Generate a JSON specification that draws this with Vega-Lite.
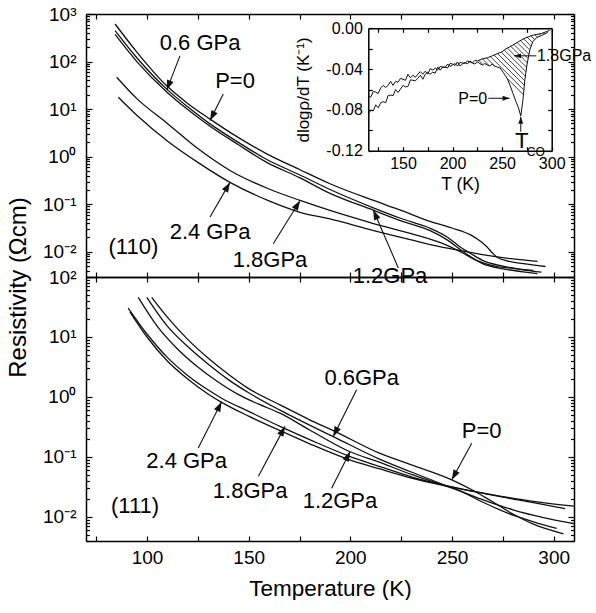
{
"$schema":"https://vega.github.io/schema/vega-lite/v6.json",
"padding":{"left":6,"top":5,"right":0,"bottom":0},
"background":"white",
"spacing":0,
"bounds":"flush",
"config":{"font":"Liberation Sans","view":{"stroke":null},
"axis":{"domainColor":"#000","domainWidth":1.5,"tickColor":"#000","tickWidth":1.2,"labelColor":"#000","titleColor":"#000","grid":false,"labelFont":"Liberation Sans","titleFont":"Liberation Sans","titleFontWeight":"normal","labelFontSize":19,"titleFontSize":22.5,"labelOverlap":false,"labelFlush":false},
"text":{"font":"Liberation Sans","color":"#000"}},
"datasets":{
"p110":[
{"P":"P=0","T":84.3,"rho":616.6},{"P":"P=0","T":95,"rho":158.5},{"P":"P=0","T":109.7,"rho":30.9},{"P":"P=0","T":120,"rho":13.18},{"P":"P=0","T":131,"rho":6.166},{"P":"P=0","T":145,"rho":2.512},{"P":"P=0","T":158.9,"rho":1.148},{"P":"P=0","T":175,"rho":0.537},{"P":"P=0","T":190,"rho":0.2692},{"P":"P=0","T":210,"rho":0.1259},{"P":"P=0","T":225,"rho":0.07413},{"P":"P=0","T":239.2,"rho":0.04365},{"P":"P=0","T":250,"rho":0.03162},{"P":"P=0","T":258.9,"rho":0.02291},{"P":"P=0","T":264,"rho":0.0166},{"P":"P=0","T":267,"rho":0.01288},{"P":"P=0","T":270,"rho":0.00933},{"P":"P=0","T":272,"rho":0.00776},{"P":"P=0","T":277,"rho":0.00646},{"P":"P=0","T":285,"rho":0.00562},{"P":"P=0","T":296,"rho":0.0049},
{"P":"0.6","T":84.3,"rho":446.7},{"P":"0.6","T":95,"rho":120.2},{"P":"0.6","T":109.7,"rho":26.3},{"P":"0.6","T":120,"rho":11.22},{"P":"0.6","T":131,"rho":4.898},{"P":"0.6","T":145,"rho":1.995},{"P":"0.6","T":158.9,"rho":0.871},{"P":"0.6","T":175,"rho":0.417},{"P":"0.6","T":190,"rho":0.2042},{"P":"0.6","T":211,"rho":0.0851},{"P":"0.6","T":225,"rho":0.0501},{"P":"0.6","T":239,"rho":0.03162},{"P":"0.6","T":248,"rho":0.01995},{"P":"0.6","T":254,"rho":0.01259},{"P":"0.6","T":259,"rho":0.00933},{"P":"0.6","T":265,"rho":0.00661},{"P":"0.6","T":275,"rho":0.00501},{"P":"0.6","T":285,"rho":0.00417},{"P":"0.6","T":294,"rho":0.00372},
{"P":"1.2","T":84.3,"rho":371.5},{"P":"1.2","T":95,"rho":100},{"P":"1.2","T":109.7,"rho":22.9},{"P":"1.2","T":120,"rho":9.772},{"P":"1.2","T":131,"rho":4.365},{"P":"1.2","T":145,"rho":1.778},{"P":"1.2","T":158.9,"rho":0.7586},{"P":"1.2","T":175,"rho":0.3631},{"P":"1.2","T":190,"rho":0.1698},{"P":"1.2","T":211,"rho":0.07586},{"P":"1.2","T":225,"rho":0.04467},{"P":"1.2","T":239,"rho":0.02818},{"P":"1.2","T":248,"rho":0.01738},{"P":"1.2","T":254,"rho":0.01122},{"P":"1.2","T":259,"rho":0.00794},{"P":"1.2","T":265,"rho":0.00562},{"P":"1.2","T":275,"rho":0.00437},{"P":"1.2","T":285,"rho":0.0038},{"P":"1.2","T":292,"rho":0.00347},
{"P":"1.8","T":85.1,"rho":46.77},{"P":"1.8","T":95,"rho":16.6},{"P":"1.8","T":110,"rho":5.012},{"P":"1.8","T":125,"rho":1.479},{"P":"1.8","T":140.8,"rho":0.5129},{"P":"1.8","T":160,"rho":0.2089},{"P":"1.8","T":175.3,"rho":0.1202},{"P":"1.8","T":190,"rho":0.07413},{"P":"1.8","T":211,"rho":0.03981},{"P":"1.8","T":230,"rho":0.02399},{"P":"1.8","T":245,"rho":0.01514},{"P":"1.8","T":255,"rho":0.00955},{"P":"1.8","T":262,"rho":0.00661},{"P":"1.8","T":270,"rho":0.00513},{"P":"1.8","T":280,"rho":0.00447},{"P":"1.8","T":290,"rho":0.00407},
{"P":"2.4","T":85.9,"rho":17.78},{"P":"2.4","T":95,"rho":7.413},{"P":"2.4","T":110,"rho":2.138},{"P":"2.4","T":125,"rho":0.7586},{"P":"2.4","T":140.8,"rho":0.2884},{"P":"2.4","T":160,"rho":0.1175},{"P":"2.4","T":175.3,"rho":0.0676},{"P":"2.4","T":190,"rho":0.049},{"P":"2.4","T":211,"rho":0.02818},{"P":"2.4","T":230,"rho":0.01778},{"P":"2.4","T":245,"rho":0.01259},{"P":"2.4","T":255,"rho":0.01047},{"P":"2.4","T":265,"rho":0.00871},{"P":"2.4","T":280,"rho":0.00708},{"P":"2.4","T":292,"rho":0.00631}
],
"p111":[
{"P":"P=0","T":102.3,"rho":45.71},{"P":"P=0","T":110,"rho":21.38},{"P":"P=0","T":120,"rho":9.12},{"P":"P=0","T":130,"rho":4.467},{"P":"P=0","T":140,"rho":2.399},{"P":"P=0","T":150,"rho":1.38},{"P":"P=0","T":165.4,"rho":0.7413},{"P":"P=0","T":180,"rho":0.4169},{"P":"P=0","T":191.6,"rho":0.2754},{"P":"P=0","T":214.6,"rho":0.1148},{"P":"P=0","T":230,"rho":0.07413},{"P":"P=0","T":249.9,"rho":0.04169},{"P":"P=0","T":260,"rho":0.02818},{"P":"P=0","T":268.7,"rho":0.01905},{"P":"P=0","T":280,"rho":0.01122},{"P":"P=0","T":290,"rho":0.00759},{"P":"P=0","T":304.8,"rho":0.00525},
{"P":"0.6","T":99.9,"rho":45.71},{"P":"0.6","T":110,"rho":15.14},{"P":"0.6","T":120,"rho":6.918},{"P":"0.6","T":130,"rho":3.548},{"P":"0.6","T":140,"rho":1.95},{"P":"0.6","T":150,"rho":1.175},{"P":"0.6","T":165.4,"rho":0.6026},{"P":"0.6","T":180,"rho":0.3388},{"P":"0.6","T":191.6,"rho":0.2188},{"P":"0.6","T":214.6,"rho":0.0912},{"P":"0.6","T":230,"rho":0.05623},{"P":"0.6","T":245,"rho":0.03548},{"P":"0.6","T":255,"rho":0.0263},{"P":"0.6","T":265,"rho":0.01778},{"P":"0.6","T":280,"rho":0.01072},{"P":"0.6","T":292,"rho":0.00794},{"P":"0.6","T":301.5,"rho":0.00646},
{"P":"1.2","T":95.7,"rho":45.71},{"P":"1.2","T":105,"rho":15.14},{"P":"1.2","T":115,"rho":6.31},{"P":"1.2","T":125,"rho":3.162},{"P":"1.2","T":135,"rho":1.778},{"P":"1.2","T":145,"rho":1.096},{"P":"1.2","T":155,"rho":0.7586},{"P":"1.2","T":165.4,"rho":0.537},{"P":"1.2","T":180,"rho":0.2818},{"P":"1.2","T":199,"rho":0.1259},{"P":"1.2","T":214.6,"rho":0.08128},{"P":"1.2","T":230,"rho":0.05129},{"P":"1.2","T":245,"rho":0.03467},{"P":"1.2","T":255,"rho":0.0263},{"P":"1.2","T":265,"rho":0.0195},{"P":"1.2","T":280,"rho":0.01318},{"P":"1.2","T":295,"rho":0.00977},{"P":"1.2","T":310,"rho":0.00776},
{"P":"1.8","T":90.8,"rho":30.2},{"P":"1.8","T":100,"rho":11.22},{"P":"1.8","T":110,"rho":4.571},{"P":"1.8","T":120,"rho":2.291},{"P":"1.8","T":130,"rho":1.318},{"P":"1.8","T":136.7,"rho":0.955},{"P":"1.8","T":150,"rho":0.5754},{"P":"1.8","T":165.4,"rho":0.3236},{"P":"1.8","T":180,"rho":0.195},{"P":"1.8","T":199,"rho":0.1047},{"P":"1.8","T":214.6,"rho":0.06918},{"P":"1.8","T":230,"rho":0.04677},{"P":"1.8","T":245,"rho":0.03467},{"P":"1.8","T":260,"rho":0.02692},{"P":"1.8","T":275,"rho":0.02138},{"P":"1.8","T":290,"rho":0.01738},{"P":"1.8","T":305.6,"rho":0.0138},
{"P":"2.4","T":91.6,"rho":26.3},{"P":"2.4","T":100,"rho":10},{"P":"2.4","T":110,"rho":3.981},{"P":"2.4","T":120,"rho":1.995},{"P":"2.4","T":130,"rho":1.122},{"P":"2.4","T":136.7,"rho":0.8128},{"P":"2.4","T":150,"rho":0.4786},{"P":"2.4","T":165.4,"rho":0.2754},{"P":"2.4","T":180,"rho":0.166},{"P":"2.4","T":199,"rho":0.0912},{"P":"2.4","T":214.6,"rho":0.0631},{"P":"2.4","T":230,"rho":0.04467},{"P":"2.4","T":245,"rho":0.03388},{"P":"2.4","T":260,"rho":0.02692},{"P":"2.4","T":275,"rho":0.02188},{"P":"2.4","T":290,"rho":0.0182},{"P":"2.4","T":310,"rho":0.01514}
],
"lab110":[
{"T":126.1,"rho":240,"text":"0.6 GPa"},{"T":143.3,"rho":39.8,"text":"P=0"},{"T":131,"rho":0.0257,"text":"2.4 GPa"},{"T":160.5,"rho":0.00676,"text":"1.8GPa"},{"T":219.5,"rho":0.00316,"text":"1.2GPa"},{"T":93.3,"rho":0.0126,"text":"(110)"}
],
"arr110":[
{"T1":116.2,"r1":131.8,"T2":109.7,"r2":25.1,"ang":201},{"T1":137.5,"r1":20.9,"T2":131,"r2":5.75,"ang":206.5},{"T1":131,"r1":0.0537,"T2":140.8,"r2":0.288,"ang":29.7},{"T1":162.1,"r1":0.0148,"T2":175.3,"r2":0.12,"ang":31.7},{"T1":223.6,"r1":0.00457,"T2":211.3,"r2":0.0759,"ang":336.8}
],
"lab111":[
{"T":119.5,"rho":0.0851,"text":"2.4 GPa"},{"T":150.7,"rho":0.0269,"text":"1.8GPa"},{"T":94.1,"rho":0.0151,"text":"(111)"},{"T":205.6,"rho":2.042,"text":"0.6GPa"},{"T":194.9,"rho":0.0182,"text":"1.2GPa"},{"T":264.6,"rho":0.269,"text":"P=0"}
],
"arr111":[
{"T1":125.2,"r1":0.1413,"T2":136.7,"r2":0.832,"ang":26.7},{"T1":154.8,"r1":0.0479,"T2":167.9,"r2":0.324,"ang":28.1},{"T1":203.1,"r1":1.318,"T2":191.6,"r2":0.219,"ang":206.6},{"T1":190.8,"r1":0.0302,"T2":199.9,"r2":0.123,"ang":26.6},{"T1":259.7,"r1":0.17,"T2":249.9,"r2":0.0417,"ang":208.6}
],
"inset":[
{"P":"P=0","T":115,"v":-0.084},{"P":"P=0","T":117.5,"v":-0.08},{"P":"P=0","T":120,"v":-0.081},{"P":"P=0","T":122.5,"v":-0.075},{"P":"P=0","T":125,"v":-0.078},{"P":"P=0","T":127.5,"v":-0.073},{"P":"P=0","T":130,"v":-0.072},{"P":"P=0","T":132.5,"v":-0.073},{"P":"P=0","T":135,"v":-0.066},{"P":"P=0","T":137.5,"v":-0.0655},{"P":"P=0","T":140,"v":-0.066},{"P":"P=0","T":142.5,"v":-0.06},{"P":"P=0","T":145,"v":-0.063},{"P":"P=0","T":147.5,"v":-0.0595},{"P":"P=0","T":150,"v":-0.056},{"P":"P=0","T":152.5,"v":-0.0575},{"P":"P=0","T":155,"v":-0.057},{"P":"P=0","T":157.5,"v":-0.0505},{"P":"P=0","T":160,"v":-0.051},{"P":"P=0","T":162.5,"v":-0.0515},{"P":"P=0","T":165,"v":-0.049},{"P":"P=0","T":167.5,"v":-0.046},{"P":"P=0","T":170,"v":-0.05},{"P":"P=0","T":172.5,"v":-0.045},{"P":"P=0","T":175,"v":-0.043},{"P":"P=0","T":177.5,"v":-0.045},{"P":"P=0","T":180,"v":-0.043},{"P":"P=0","T":182.5,"v":-0.044},{"P":"P=0","T":185,"v":-0.038},{"P":"P=0","T":187.5,"v":-0.041},{"P":"P=0","T":190,"v":-0.038},{"P":"P=0","T":192.5,"v":-0.038},{"P":"P=0","T":195,"v":-0.039},{"P":"P=0","T":197.5,"v":-0.0345},{"P":"P=0","T":200,"v":-0.035},{"P":"P=0","T":202.5,"v":-0.0365},{"P":"P=0","T":205,"v":-0.033},{"P":"P=0","T":207.5,"v":-0.037},{"P":"P=0","T":210,"v":-0.035},{"P":"P=0","T":212.5,"v":-0.0335},{"P":"P=0","T":215,"v":-0.035},{"P":"P=0","T":217.5,"v":-0.032},{"P":"P=0","T":220,"v":-0.034},{"P":"P=0","T":222.5,"v":-0.035},{"P":"P=0","T":225,"v":-0.033},{"P":"P=0","T":227.5,"v":-0.0345},{"P":"P=0","T":230,"v":-0.036},{"P":"P=0","T":232.5,"v":-0.0345},{"P":"P=0","T":235,"v":-0.036},{"P":"P=0","T":237.5,"v":-0.037},{"P":"P=0","T":240,"v":-0.035},{"P":"P=0","T":242.5,"v":-0.037},{"P":"P=0","T":245,"v":-0.038},{"P":"P=0","T":248,"v":-0.039},{"P":"P=0","T":251,"v":-0.043},{"P":"P=0","T":253,"v":-0.046},{"P":"P=0","T":255,"v":-0.049},{"P":"P=0","T":258,"v":-0.056},{"P":"P=0","T":261,"v":-0.064},{"P":"P=0","T":264,"v":-0.072},{"P":"P=0","T":266.5,"v":-0.078},{"P":"P=0","T":268.8,"v":-0.086},{"P":"P=0","T":271,"v":-0.07},{"P":"P=0","T":273,"v":-0.05},{"P":"P=0","T":275,"v":-0.036},{"P":"P=0","T":278,"v":-0.021},{"P":"P=0","T":281,"v":-0.013},{"P":"P=0","T":285,"v":-0.009},{"P":"P=0","T":290,"v":-0.007},{"P":"P=0","T":296,"v":-0.004},
{"P":"1.8","T":115,"v":-0.066},{"P":"1.8","T":117.5,"v":-0.0675},{"P":"1.8","T":120,"v":-0.062},{"P":"1.8","T":122.5,"v":-0.0625},{"P":"1.8","T":125,"v":-0.064},{"P":"1.8","T":127.5,"v":-0.0585},{"P":"1.8","T":130,"v":-0.056},{"P":"1.8","T":132.5,"v":-0.058},{"P":"1.8","T":135,"v":-0.056},{"P":"1.8","T":137.5,"v":-0.052},{"P":"1.8","T":140,"v":-0.056},{"P":"1.8","T":142.5,"v":-0.052},{"P":"1.8","T":145,"v":-0.053},{"P":"1.8","T":147.5,"v":-0.049},{"P":"1.8","T":150,"v":-0.05},{"P":"1.8","T":152.5,"v":-0.051},{"P":"1.8","T":155,"v":-0.045},{"P":"1.8","T":157.5,"v":-0.0485},{"P":"1.8","T":160,"v":-0.046},{"P":"1.8","T":162.5,"v":-0.048},{"P":"1.8","T":165,"v":-0.045},{"P":"1.8","T":167.5,"v":-0.0425},{"P":"1.8","T":170,"v":-0.045},{"P":"1.8","T":172.5,"v":-0.042},{"P":"1.8","T":175,"v":-0.045},{"P":"1.8","T":177.5,"v":-0.0395},{"P":"1.8","T":180,"v":-0.041},{"P":"1.8","T":182.5,"v":-0.039},{"P":"1.8","T":185,"v":-0.041},{"P":"1.8","T":187.5,"v":-0.0375},{"P":"1.8","T":190,"v":-0.038},{"P":"1.8","T":192.5,"v":-0.0385},{"P":"1.8","T":195,"v":-0.035},{"P":"1.8","T":197.5,"v":-0.0375},{"P":"1.8","T":200,"v":-0.036},{"P":"1.8","T":202.5,"v":-0.0345},{"P":"1.8","T":205,"v":-0.037},{"P":"1.8","T":207.5,"v":-0.0335},{"P":"1.8","T":210,"v":-0.034},{"P":"1.8","T":212.5,"v":-0.0345},{"P":"1.8","T":215,"v":-0.032},{"P":"1.8","T":217.5,"v":-0.033},{"P":"1.8","T":220,"v":-0.034},{"P":"1.8","T":222.5,"v":-0.0315},{"P":"1.8","T":225,"v":-0.032},{"P":"1.8","T":230,"v":-0.03},{"P":"1.8","T":235,"v":-0.029},{"P":"1.8","T":240,"v":-0.027},{"P":"1.8","T":245,"v":-0.025},{"P":"1.8","T":250,"v":-0.023},{"P":"1.8","T":254,"v":-0.02},{"P":"1.8","T":258,"v":-0.018},{"P":"1.8","T":265,"v":-0.014},{"P":"1.8","T":272,"v":-0.01},{"P":"1.8","T":280,"v":-0.007},{"P":"1.8","T":290,"v":-0.005},{"P":"1.8","T":298,"v":-0.002}
],
"hatch":[
{"T1":226.5,"v1":-0.0315,"T2":230.3,"v2":-0.0351},{"T1":230.1,"v1":-0.0299,"T2":236.4,"v2":-0.0361},{"T1":234.1,"v1":-0.0288,"T2":242.6,"v2":-0.0371},{"T1":255.1,"v1":-0.0492,"T2":271.5,"v2":-0.0651},{"T1":238,"v1":-0.0276,"T2":272,"v2":-0.0606},{"T1":241.8,"v1":-0.0263,"T2":272.4,"v2":-0.056},{"T1":245.4,"v1":-0.0248,"T2":272.85,"v2":-0.0514},{"T1":249.1,"v1":-0.0234,"T2":273.4,"v2":-0.0469},{"T1":252.3,"v1":-0.0215,"T2":274.1,"v2":-0.0426},{"T1":255.5,"v1":-0.0196,"T2":274.7,"v2":-0.0382},{"T1":258.6,"v1":-0.0176,"T2":275.4,"v2":-0.0339},{"T1":261.9,"v1":-0.0158,"T2":276.3,"v2":-0.0298},{"T1":265.1,"v1":-0.0139,"T2":277.1,"v2":-0.0255},{"T1":268.4,"v1":-0.0121,"T2":277.9,"v2":-0.0213},{"T1":271.6,"v1":-0.0102,"T2":279.3,"v2":-0.0177},{"T1":275.3,"v1":-0.0088,"T2":280.6,"v2":-0.0139},{"T1":279,"v1":-0.0074,"T2":282.9,"v2":-0.0112},{"T1":283.1,"v1":-0.0064,"T2":285.6,"v2":-0.0088},{"T1":287.4,"v1":-0.0055,"T2":289.2,"v2":-0.0073},{"T1":291.4,"v1":-0.0044,"T2":292.7,"v2":-0.0057}
],
"inarr":[
{"T1":236.1,"v1":-0.0686,"T2":257.5,"v2":-0.0686,"ang":90},{"T1":284.5,"v1":-0.027,"T2":262,"v2":-0.027,"ang":270},{"T1":268.8,"v1":-0.1014,"T2":268.8,"v2":-0.0867,"ang":0}
]
},
"vconcat":[
{"width":488,"height":263,
"layer":[
{"data":{"name":"p110"},"mark":{"type":"line","interpolate":"monotone","color":"#111","strokeWidth":1.3},
"encoding":{
"x":{"field":"T","type":"quantitative","scale":{"domain":[70,310],"nice":false,"zero":false},"axis":{"orient":"bottom","values":[75,100,125,150,175,200,225,250,275,300],"labels":false,"tickSize":-5,"title":null}},
"y":{"field":"rho","type":"quantitative","scale":{"type":"log","domain":[0.00295,1000],"nice":false},"axis":{"orient":"left","values":[0.003,0.004,0.005,0.006,0.007,0.008,0.009,0.01,0.02,0.03,0.04,0.05,0.06,0.07,0.08,0.09,0.1,0.2,0.3,0.4,0.5,0.6,0.7,0.8,0.9,1,2,3,4,5,6,7,8,9,10,20,30,40,50,60,70,80,90,100,200,300,400,500,600,700,800,900,1000],"labelExpr":"datum.value==1000?'10³':datum.value==100?'10²':datum.value==10?'10¹':datum.value==1?'10⁰':datum.value==0.1?'10⁻¹':datum.value==0.01?'10⁻²':''","tickSize":{"condition":{"test":"indexof([0.01,0.1,1,10,100,1000],datum.value)>=0","value":-6},"value":-3.5},"labelPadding":16,"title":"Resistivity (Ωcm)","titleFontSize":24,"titleX":-68,"titleY":273,"titleBaseline":"middle"}},
"detail":{"field":"P"}}},
{"data":{"name":"lab110"},"mark":{"type":"text","fontSize":22},
"encoding":{
"x":{"field":"T","type":"quantitative","scale":{"domain":[70,310],"nice":false,"zero":false},"axis":{"orient":"top","values":[75,100,125,150,175,200,225,250,275,300],"labels":false,"tickSize":-5,"title":null}},
"y":{"field":"rho","type":"quantitative","scale":{"type":"log","domain":[0.00295,1000],"nice":false},"axis":{"orient":"right","values":[0.003,0.004,0.005,0.006,0.007,0.008,0.009,0.01,0.02,0.03,0.04,0.05,0.06,0.07,0.08,0.09,0.1,0.2,0.3,0.4,0.5,0.6,0.7,0.8,0.9,1,2,3,4,5,6,7,8,9,10,20,30,40,50,60,70,80,90,100,200,300,400,500,600,700,800,900,1000],"labels":false,"tickSize":{"condition":{"test":"indexof([0.01,0.1,1,10,100,1000],datum.value)>=0","value":-6},"value":-3.5},"title":null}},
"text":{"field":"text"}}},
{"data":{"name":"arr110"},"mark":{"type":"rule","color":"#111","strokeWidth":1.1},
"encoding":{
"x":{"field":"T1","type":"quantitative","scale":{"domain":[70,310],"nice":false,"zero":false},"axis":null},"x2":{"field":"T2"},
"y":{"field":"r1","type":"quantitative","scale":{"type":"log","domain":[0.00295,1000],"nice":false},"axis":null},"y2":{"field":"r2"}}},
{"data":{"name":"arr110"},"mark":{"type":"point","shape":"M0,0L-0.35,1L0.35,1Z","filled":true,"size":400,"color":"#111","opacity":1,"strokeWidth":0},
"encoding":{
"x":{"field":"T2","type":"quantitative","scale":{"domain":[70,310],"nice":false,"zero":false},"axis":null},
"y":{"field":"r2","type":"quantitative","scale":{"type":"log","domain":[0.00295,1000],"nice":false},"axis":null},
"angle":{"field":"ang","type":"quantitative","scale":null}}},
{"data":{"name":"inset"},"mark":{"type":"line","color":"#111","strokeWidth":1},
"encoding":{
"x":{"field":"T","type":"quantitative","scale":{"domain":[115,300],"range":[282.3,465.7],"nice":false,"zero":false},"axis":{"orient":"bottom","offset":-126.3,"values":[125,150,175,200,225,250,275,300],"labelExpr":"datum.value%50==0?datum.label:''","tickSize":-4,"labelFontSize":16,"labelPadding":9,"title":"T (K)","titleFontSize":17.5,"titlePadding":4}},
"y":{"field":"v","type":"quantitative","scale":{"domain":[-0.12,0],"range":[136.7,14.3],"nice":false,"zero":false},"axis":{"orient":"left","offset":-282.3,"values":[-0.12,-0.1,-0.08,-0.06,-0.04,-0.02,0],"labelExpr":"indexof([0,-0.04,-0.08,-0.12],datum.value)>=0?replace(format(datum.value,'.2f'),'−','-'):''","tickSize":-4,"labelFontSize":16,"labelPadding":10,"title":"dlogρ/dT (K⁻¹)","titleFontSize":17,"titleX":-65,"titleBaseline":"middle"}},
"detail":{"field":"P"}}},
{"data":{"name":"hatch"},"mark":{"type":"rule","color":"#111","strokeWidth":0.8},
"encoding":{
"x":{"field":"T1","type":"quantitative","scale":{"domain":[115,300],"range":[282.3,465.7],"nice":false,"zero":false},"axis":{"orient":"top","offset":-14.3,"values":[125,150,175,200,225,250,275,300],"labels":false,"tickSize":-4,"title":null}},"x2":{"field":"T2"},
"y":{"field":"v1","type":"quantitative","scale":{"domain":[-0.12,0],"range":[136.7,14.3],"nice":false,"zero":false},"axis":{"orient":"right","offset":-22.3,"values":[-0.12,-0.1,-0.08,-0.06,-0.04,-0.02,0],"labels":false,"tickSize":-4,"title":null}},"y2":{"field":"v2"}}},
{"data":{"values":[{"T":220.3,"v":-0.0697,"text":"P=0"},{"T":312.5,"v":-0.027,"text":"1.8GPa"}]},"mark":{"type":"text","fontSize":16},
"encoding":{
"x":{"field":"T","type":"quantitative","scale":{"domain":[115,300],"range":[282.3,465.7],"nice":false,"zero":false},"axis":null},
"y":{"field":"v","type":"quantitative","scale":{"domain":[-0.12,0],"range":[136.7,14.3],"nice":false,"zero":false},"axis":null},
"text":{"field":"text"}}},
{"data":{"values":[{"T":269.8,"v":-0.1103,"text":"T"}]},"mark":{"type":"text","fontSize":22},
"encoding":{
"x":{"field":"T","type":"quantitative","scale":{"domain":[115,300],"range":[282.3,465.7],"nice":false,"zero":false},"axis":null},
"y":{"field":"v","type":"quantitative","scale":{"domain":[-0.12,0],"range":[136.7,14.3],"nice":false,"zero":false},"axis":null},
"text":{"field":"text"}}},
{"data":{"values":[{"T":284,"v":-0.121,"text":"CO"}]},"mark":{"type":"text","fontSize":12},
"encoding":{
"x":{"field":"T","type":"quantitative","scale":{"domain":[115,300],"range":[282.3,465.7],"nice":false,"zero":false},"axis":null},
"y":{"field":"v","type":"quantitative","scale":{"domain":[-0.12,0],"range":[136.7,14.3],"nice":false,"zero":false},"axis":null},
"text":{"field":"text"}}},
{"data":{"name":"inarr"},"mark":{"type":"rule","color":"#111","strokeWidth":1},
"encoding":{
"x":{"field":"T1","type":"quantitative","scale":{"domain":[115,300],"range":[282.3,465.7],"nice":false,"zero":false},"axis":null},"x2":{"field":"T2"},
"y":{"field":"v1","type":"quantitative","scale":{"domain":[-0.12,0],"range":[136.7,14.3],"nice":false,"zero":false},"axis":null},"y2":{"field":"v2"}}},
{"data":{"name":"inarr"},"mark":{"type":"point","shape":"M0,0L-0.35,1L0.35,1Z","filled":true,"size":196,"color":"#111","opacity":1,"strokeWidth":0},
"encoding":{
"x":{"field":"T2","type":"quantitative","scale":{"domain":[115,300],"range":[282.3,465.7],"nice":false,"zero":false},"axis":null},
"y":{"field":"v2","type":"quantitative","scale":{"domain":[-0.12,0],"range":[136.7,14.3],"nice":false,"zero":false},"axis":null},
"angle":{"field":"ang","type":"quantitative","scale":null}}}
],
"resolve":{"scale":{"x":"independent","y":"independent"},"axis":{"x":"independent","y":"independent"}}
},
{"width":488,"height":264,
"layer":[
{"data":{"name":"p111"},"mark":{"type":"line","interpolate":"monotone","color":"#111","strokeWidth":1.3},
"encoding":{
"x":{"field":"T","type":"quantitative","scale":{"domain":[70,310],"nice":false,"zero":false},"axis":{"orient":"bottom","values":[75,100,125,150,175,200,225,250,275,300],"labelExpr":"datum.value%50==0?datum.label:''","tickSize":-5,"labelPadding":12,"title":"Temperature (K)","titlePadding":10}},
"y":{"field":"rho","type":"quantitative","scale":{"type":"log","domain":[0.003981,100],"nice":false},"axis":{"orient":"left","values":[0.004,0.005,0.006,0.007,0.008,0.009,0.01,0.02,0.03,0.04,0.05,0.06,0.07,0.08,0.09,0.1,0.2,0.3,0.4,0.5,0.6,0.7,0.8,0.9,1,2,3,4,5,6,7,8,9,10,20,30,40,50,60,70,80,90,100],"labelExpr":"datum.value==1000?'10³':datum.value==100?'10²':datum.value==10?'10¹':datum.value==1?'10⁰':datum.value==0.1?'10⁻¹':datum.value==0.01?'10⁻²':''","tickSize":{"condition":{"test":"indexof([0.01,0.1,1,10,100,1000],datum.value)>=0","value":-6},"value":-3.5},"labelPadding":16,"title":null}},
"detail":{"field":"P"}}},
{"data":{"name":"lab111"},"mark":{"type":"text","fontSize":22},
"encoding":{
"x":{"field":"T","type":"quantitative","scale":{"domain":[70,310],"nice":false,"zero":false},"axis":{"orient":"top","values":[75,100,125,150,175,200,225,250,275,300],"labels":false,"tickSize":-5,"title":null}},
"y":{"field":"rho","type":"quantitative","scale":{"type":"log","domain":[0.003981,100],"nice":false},"axis":{"orient":"right","values":[0.004,0.005,0.006,0.007,0.008,0.009,0.01,0.02,0.03,0.04,0.05,0.06,0.07,0.08,0.09,0.1,0.2,0.3,0.4,0.5,0.6,0.7,0.8,0.9,1,2,3,4,5,6,7,8,9,10,20,30,40,50,60,70,80,90,100],"labels":false,"tickSize":{"condition":{"test":"indexof([0.01,0.1,1,10,100,1000],datum.value)>=0","value":-6},"value":-3.5},"title":null}},
"text":{"field":"text"}}},
{"data":{"name":"arr111"},"mark":{"type":"rule","color":"#111","strokeWidth":1.1},
"encoding":{
"x":{"field":"T1","type":"quantitative","scale":{"domain":[70,310],"nice":false,"zero":false},"axis":null},"x2":{"field":"T2"},
"y":{"field":"r1","type":"quantitative","scale":{"type":"log","domain":[0.003981,100],"nice":false},"axis":null},"y2":{"field":"r2"}}},
{"data":{"name":"arr111"},"mark":{"type":"point","shape":"M0,0L-0.35,1L0.35,1Z","filled":true,"size":400,"color":"#111","opacity":1,"strokeWidth":0},
"encoding":{
"x":{"field":"T2","type":"quantitative","scale":{"domain":[70,310],"nice":false,"zero":false},"axis":null},
"y":{"field":"r2","type":"quantitative","scale":{"type":"log","domain":[0.003981,100],"nice":false},"axis":null},
"angle":{"field":"ang","type":"quantitative","scale":null}}}
],
"resolve":{"scale":{"x":"independent","y":"independent"},"axis":{"x":"independent","y":"independent"}}
}
]
}
